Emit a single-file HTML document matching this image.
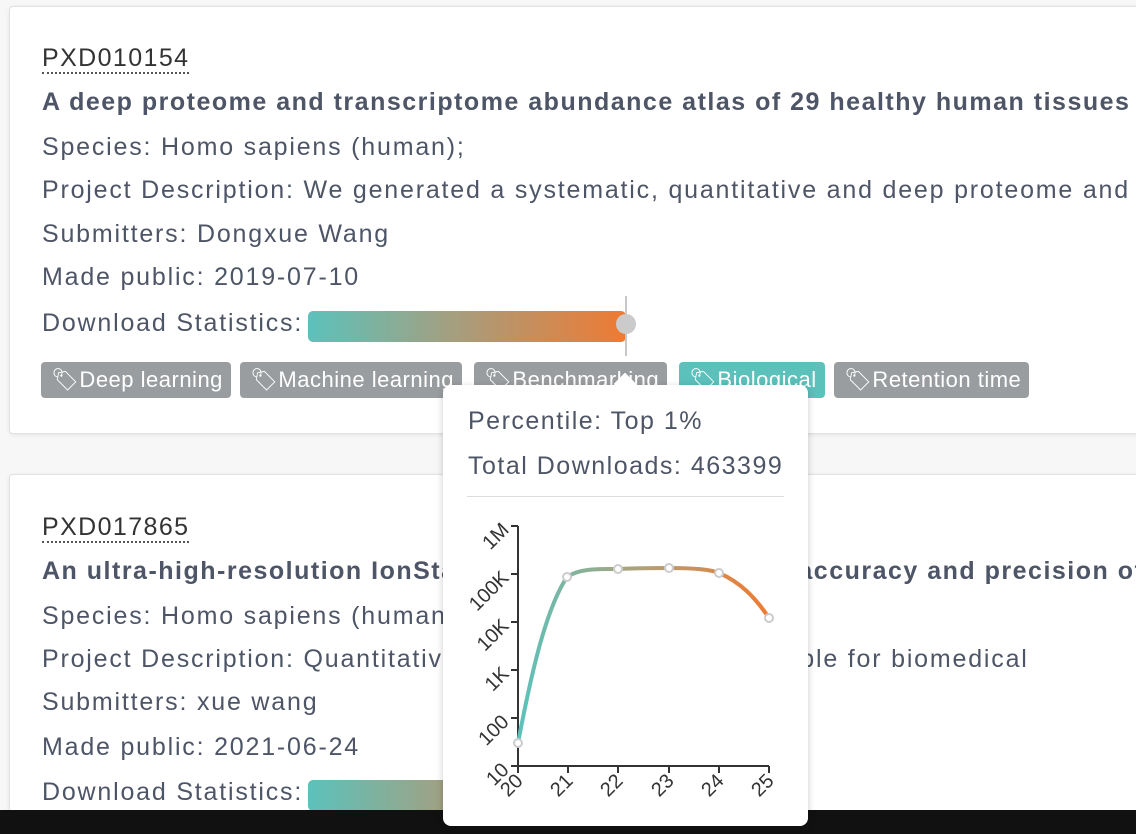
<!DOCTYPE html>
<html><head><style>
html,body{margin:0;width:1136px;height:834px;overflow:hidden}
body{background:#f7f7f7;font-family:"Liberation Sans",sans-serif;position:relative}
#w{position:absolute;left:0;top:0;width:1136px;height:834px;overflow:hidden}
.card{position:absolute;left:9px;width:1140px;background:#fff;border:1px solid #e2e2e2;border-radius:4px;box-shadow:0 1px 4px rgba(0,0,0,.08)}
.t{position:absolute;left:42px;font-size:25px;letter-spacing:1.8px;color:#4d5566;white-space:nowrap}
.acc{color:#333;border-bottom:2px dotted #555;line-height:27px;letter-spacing:1.4px}
.b{font-weight:bold;letter-spacing:1.5px}
.tag{position:absolute;top:362px;height:36px;line-height:36px;background:#9a9d9f;color:#fff;font-size:22px;letter-spacing:0.5px;border-radius:4px;padding:0 8px 0 10px;white-space:nowrap}
.tag.c{background:#5cc0bb}
</style></head><body><div id="w">
<div class="card" style="top:6px;height:426px"></div>
<div class="card" style="top:474px;height:340px"></div>
<div class="t acc" style="top:45px">PXD010154</div>
<div class="t b" style="top:88px">A deep proteome and transcriptome abundance atlas of 29 healthy human tissues</div>
<div class="t" style="top:133px">Species: Homo sapiens (human);</div>
<div class="t" style="top:176px">Project Description: We generated a systematic, quantitative and deep proteome and tra</div>
<div class="t" style="top:220px">Submitters: Dongxue Wang</div>
<div class="t" style="top:263px">Made public: 2019-07-10</div>
<div class="t" style="top:309px">Download Statistics:</div>
<div style="position:absolute;left:308px;top:311px;width:318px;height:31px;border-radius:5px;background:linear-gradient(90deg,#5cc2bb,#a49f80 45%,#ef7a32)"></div>
<div style="position:absolute;left:625px;top:296px;width:2px;height:60px;background:#c8c8c8"></div>
<div style="position:absolute;left:616px;top:314px;width:20px;height:20px;border-radius:50%;background:#cbcbcb"></div>
<div class="tag" style="left:41px">🏷Deep learning</div>
<div class="tag" style="left:240px">🏷Machine learning</div>
<div class="tag" style="left:474px">🏷Benchmarking</div>
<div class="tag c" style="left:679px">🏷Biological</div>
<div class="tag" style="left:834px">🏷Retention time</div>
<div class="t acc" style="top:514px">PXD017865</div>
<div class="t b" style="top:557px">An ultra-high-resolution IonStar proteomics strategy for accuracy and precision of MS1</div>
<div class="t" style="top:602px">Species: Homo sapiens (human);</div>
<div class="t" style="top:645px">Project Description: Quantitative proteomics is highly valuable for biomedical</div>
<div class="t" style="top:688px">Submitters: xue wang</div>
<div class="t" style="top:733px">Made public: 2021-06-24</div>
<div class="t" style="top:778px">Download Statistics:</div>
<div style="position:absolute;left:308px;top:780px;width:318px;height:31px;border-radius:5px;background:linear-gradient(90deg,#5cc2bb,#a49f80 45%,#ef7a32)"></div>
<div style="position:absolute;left:0;top:810px;width:1136px;height:24px;background:#111"></div>
<div style="position:absolute;left:443px;top:385px;width:365px;height:441px;background:#fff;border-radius:8px;box-shadow:0 2px 8px rgba(0,0,0,.2)"></div>
<div style="position:absolute;left:617px;top:376px;width:16px;height:16px;background:#fff;transform:rotate(45deg)"></div>
<div class="t" style="left:468px;top:407px;letter-spacing:1.5px">Percentile: Top 1%</div>
<div class="t" style="left:468px;top:452px;letter-spacing:1.5px">Total Downloads: 463399</div>
<div style="position:absolute;left:467px;top:496px;width:317px;height:1px;background:#ddd"></div>
<svg style="position:absolute;left:0;top:0" width="1136" height="834">
<defs><linearGradient id="g" x1="518" x2="769" gradientUnits="userSpaceOnUse"><stop offset="0" stop-color="#5cc2bb"/><stop offset=".5" stop-color="#b1a078"/><stop offset="1" stop-color="#ef7a32"/></linearGradient></defs>
<g stroke="#333" stroke-width="2" fill="none">
<path d="M518 526V766H769"/>
<path d="M511 526h7M511 574h7M511 622h7M511 670h7M511 718h7M511 766h7"/>
<path d="M518 766v7M568 766v7M618 766v7M669 766v7M719 766v7M769 766v7"/>
</g>
<g font-size="20" fill="#333" text-anchor="end">
<text transform="translate(510,531) rotate(-45)">1M</text>
<text transform="translate(510,579) rotate(-45)">100K</text>
<text transform="translate(510,627) rotate(-45)">10K</text>
<text transform="translate(510,675) rotate(-45)">1K</text>
<text transform="translate(510,723) rotate(-45)">100</text>
<text transform="translate(510,771) rotate(-45)">10</text>
<text transform="translate(524,782) rotate(-45)">20</text>
<text transform="translate(574,782) rotate(-45)">21</text>
<text transform="translate(624,782) rotate(-45)">22</text>
<text transform="translate(675,782) rotate(-45)">23</text>
<text transform="translate(725,782) rotate(-45)">24</text>
<text transform="translate(775,782) rotate(-45)">25</text>
</g>
<path d="M518 743C530 680 545 610 567 577C580 568 600 569 618 569C640 568 660 568 669 568C690 568 710 569 719 573C740 582 755 597 769 618" stroke="url(#g)" stroke-width="4" fill="none"/>
<g fill="#fff" stroke="#ccc" stroke-width="2">
<circle cx="518" cy="743" r="4"/><circle cx="567" cy="577" r="4"/><circle cx="618" cy="569" r="4"/><circle cx="669" cy="568" r="4"/><circle cx="719" cy="573" r="4"/><circle cx="769" cy="618" r="4"/>
</g>
</svg>
</div></body></html>
